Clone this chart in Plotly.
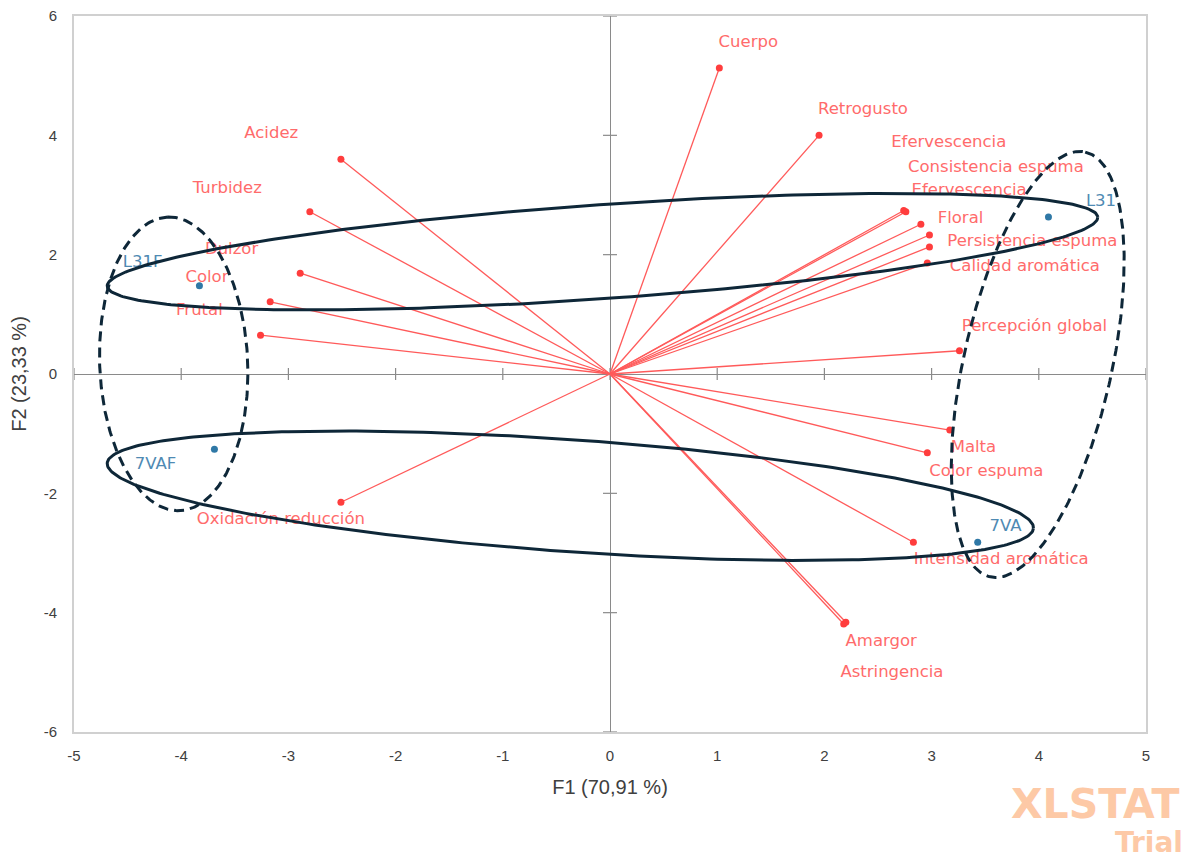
import numpy as np
import plotly.graph_objects as go

# ---------------- data ----------------
var_names = ["Cuerpo", "Retrogusto", "Efervescencia", "Consistencia espuma", "Efervescencia",
             "Floral", "Persistencia espuma", "Calidad aromática", "Percepción global", "Malta",
             "Color espuma", "Intensidad aromática", "Amargor", "Astringencia",
             "Oxidación reducción", "Acidez", "Turbidez", "Dulzor", "Color", "Frutal"]
var_f1 = [1.02, 1.95, 2.74, 2.76, 2.90, 2.98, 2.98, 2.96, 3.26, 3.17,
          2.96, 2.83, 2.18, 2.20, -2.51, -2.51, -2.80, -2.89, -3.17, -3.26]
var_f2 = [5.13, 4.00, 2.74, 2.72, 2.51, 2.33, 2.13, 1.86, 0.39, -0.94,
          -1.32, -2.82, -4.19, -4.16, -2.15, 3.60, 2.72, 1.69, 1.21, 0.65]
var_label_f1 = [1.29, 2.36, 3.16, 3.60, 3.35, 3.27, 3.94, 3.87, 3.96, 3.39,
                3.51, 3.65, 2.53, 2.63, -3.07, -3.16, -3.57, -3.53, -3.76, -3.83]
var_label_f2 = [5.55, 4.42, 3.87, 3.45, 3.07, 2.60, 2.21, 1.79, 0.79, -1.24,
                -1.64, -3.12, -4.49, -5.01, -2.45, 4.02, 3.10, 2.08, 1.61, 1.06]

obs_names = ["L31", "L31F", "7VAF", "7VA"]
obs_f1 = [4.09, -3.83, -3.69, 3.43]
obs_f2 = [2.63, 1.48, -1.26, -2.82]
obs_label_f1 = [4.58, -4.36, -4.24, 3.69]
obs_label_f2 = [2.88, 1.86, -1.53, -2.56]

# ellipses: centre, half major axis vector, half minor axis vector (data units)
ell_center = [(-0.07, 2.05), (-0.37, -2.04), (-4.07, 0.17), (3.99, 0.16)]
ell_major = [(4.62, 0.58), (4.32, -0.545), (-0.056, 2.46), (0.443, 3.56)]
ell_minor = [(0.030, -0.786), (-0.036, -0.937), (0.69, 0.05), (0.674, -0.27)]
ell_dash = ["solid", "solid", "10px,6px", "10px,6px"]

x_ticks = list(range(-5, 6))
y_ticks = list(range(-6, 7, 2))
x_tick_text = [str(v) for v in x_ticks]
y_tick_text = [str(v) for v in y_ticks]

# ---------------- styles ----------------
RED_LINE = "#ff5a5a"
RED_DOT = "#ff3d3d"
RED_TEXT = "#ff6b6b"
BLUE_DOT = "#2f78a6"
BLUE_TEXT = "#4f8ab3"
DARK = "#0e2738"
LABEL_FONT = "DejaVu Sans"

fig = go.Figure()

# vectors
lx, ly = [], []
for x, y in zip(var_f1, var_f2):
    lx += [0, x, None]
    ly += [0, y, None]
fig.add_trace(go.Scatter(x=lx, y=ly, mode="lines",
                         line=dict(color=RED_LINE, width=1.3),
                         hoverinfo="skip", showlegend=False))
fig.add_trace(go.Scatter(x=var_f1, y=var_f2, mode="markers",
                         marker=dict(color=RED_DOT, size=7),
                         text=var_names, showlegend=False))
fig.add_trace(go.Scatter(x=obs_f1, y=obs_f2, mode="markers",
                         marker=dict(color=BLUE_DOT, size=7),
                         text=obs_names, showlegend=False))

# labels
fig.add_trace(go.Scatter(x=var_label_f1, y=var_label_f2, mode="text",
                         text=var_names, textposition="middle center",
                         textfont=dict(family=LABEL_FONT, size=16.5, color=RED_TEXT),
                         hoverinfo="skip", showlegend=False))
fig.add_trace(go.Scatter(x=obs_label_f1, y=obs_label_f2, mode="text",
                         text=obs_names, textposition="middle center",
                         textfont=dict(family=LABEL_FONT, size=16.5, color=BLUE_TEXT),
                         hoverinfo="skip", showlegend=False))

# ellipses (drawn over everything)
t = np.linspace(0, 2 * np.pi, 361)
for c, a, b, d in zip(ell_center, ell_major, ell_minor, ell_dash):
    ex = c[0] + a[0] * np.cos(t) + b[0] * np.sin(t)
    ey = c[1] + a[1] * np.cos(t) + b[1] * np.sin(t)
    fig.add_trace(go.Scatter(x=ex, y=ey, mode="lines",
                             line=dict(color=DARK, width=3, dash=d),
                             hoverinfo="skip", showlegend=False))

# tick marks crossing the zero lines
shapes = []
for v in x_ticks:
    shapes.append(dict(type="line", xref="x", yref="y", x0=v, x1=v,
                       ysizemode="pixel", yanchor=0, y0=-6, y1=6,
                       line=dict(color="#8a8a8a", width=1.2), layer="below"))
for v in y_ticks:
    shapes.append(dict(type="line", xref="x", yref="y", y0=v, y1=v,
                       xsizemode="pixel", xanchor=0, x0=-7, x1=7,
                       line=dict(color="#8a8a8a", width=1.2), layer="below"))

# page body has an 8px margin: figure is sized so the plot area lands where it should
fig.update_layout(
    width=1189, height=850,
    margin=dict(l=66, r=51, t=8, b=126, autoexpand=False),
    paper_bgcolor="white", plot_bgcolor="white",
    shapes=shapes,
    showlegend=False,
    annotations=[
        dict(text="<b>XLSTAT</b>", xref="paper", yref="paper", x=1.034, y=-0.100,
             xanchor="right", yanchor="middle", showarrow=False,
             font=dict(family="DejaVu Sans", size=41, color="#fdc9a6")),
        dict(text="<b>Trial</b>", xref="paper", yref="paper", x=1.036, y=-0.155,
             xanchor="right", yanchor="middle", showarrow=False,
             font=dict(family="DejaVu Sans", size=28, color="#fdc9a6")),
    ],
)
fig.update_xaxes(range=[-5, 5], tickvals=x_ticks, ticktext=x_tick_text, showgrid=False,
                 automargin=False, ticklabeloverflow="allow",
                 zeroline=True, zerolinecolor="#8a8a8a", zerolinewidth=1.2,
                 showline=True, mirror=True, linecolor="#d0d0d0", linewidth=2,
                 ticks="outside", ticklen=9, tickcolor="rgba(0,0,0,0)",
                 tickfont=dict(family="Liberation Sans", size=15, color="#404040"),
                 title=dict(text="F1 (70,91 %)", standoff=17,
                            font=dict(family="Liberation Sans", size=20, color="#404040")))
fig.update_yaxes(range=[-6, 6], tickvals=y_ticks, ticktext=y_tick_text, showgrid=False,
                 automargin=False, ticklabeloverflow="allow",
                 zeroline=True, zerolinecolor="#8a8a8a", zerolinewidth=1.2,
                 showline=True, mirror=True, linecolor="#d0d0d0", linewidth=2,
                 ticks="outside", ticklen=12, tickcolor="rgba(0,0,0,0)",
                 tickfont=dict(family="Liberation Sans", size=15, color="#404040"),
                 title=dict(text="F2 (23,33 %)", standoff=12,
                            font=dict(family="Liberation Sans", size=20, color="#404040")))

fig.write_html("out.html")
